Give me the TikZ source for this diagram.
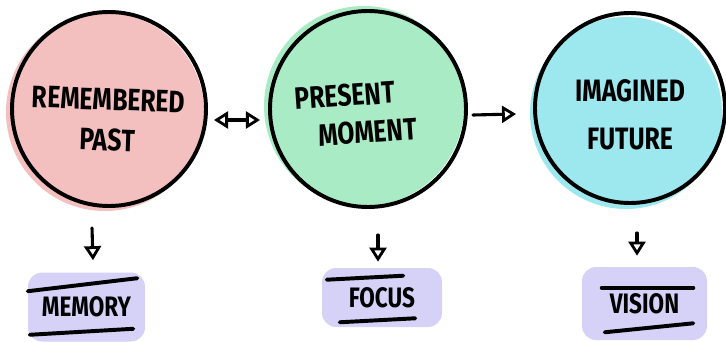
\documentclass[tikz,border=0pt]{standalone}
\usepackage{fontspec}
\setmainfont{Fira Sans}
\newfontfamily\handfont[FakeStretch=0.8]{Fira Sans}
\usetikzlibrary{arrows.meta, positioning, calc}
\definecolor{pastpink}{HTML}{F3BFBF}
\definecolor{nowgreen}{HTML}{A8EBC5}
\definecolor{futureblue}{HTML}{9DE8EF}
\definecolor{lavender}{HTML}{D6D1F7}
\newcommand{\pxu}{0.025cm}

\begin{document}
\begin{tikzpicture}[
  x=\pxu, y=-\pxu,
  >={Triangle[open, length=10pt, width=12pt, line width=2pt]},
  bubble/.style={circle, draw=black, line width=2.8pt, minimum size=#1*2*\pxu, inner sep=0pt},
  word/.style={font=\handfont\bfseries\fontsize{22}{24}\selectfont},
  tag/.style 2 args={fill=lavender, rounded corners=10pt, minimum width=#1*\pxu,
    minimum height=#2*\pxu, inner sep=0pt, font=\handfont\bfseries\fontsize{20}{22}\selectfont},
  rule/.style={line width=2.8pt, line cap=round},
  arr/.style={line width=2.2pt, line cap=round}
]
\useasboundingbox (0,0) rectangle (726,342);

% Colour washes behind the outlines
\fill[pastpink]   (105,112) circle (99);
\fill[nowgreen]   (364,106) circle (100);
\fill[futureblue] (626,113) circle (96);

% The three circles
\node[bubble=97] (past)    at (109,109) {};
\node[bubble=98] (present) at (368,109) {};
\node[bubble=95] (future)  at (630,108) {};

% Words inside
\node[word, align=center, rotate=-2] at (108,120) {REMEMBERED\\[5pt]PAST};
\node[word, align=left, rotate=4] at (356,114) {PRESENT\\[3pt]\hspace*{15pt}MOMENT};
\node[word, align=center] at (630,115) {IMAGINED\\[10pt]FUTURE};

% Highlighted labels
\node[tag={117}{69}] (memory) at (86.5,307)   {MEMORY};
\node[tag={120}{59}] (focus)  at (382,297.5)  {FOCUS};
\node[tag={125}{73}] (vision) at (644.5,303.5) {VISION};

\draw[rule] ($(memory.north west)+(0,19)$) -- ($(memory.north east)+(-8,6)$);
\draw[rule] ($(memory.south west)+(2,-7)$) -- ($(memory.south east)+(-12,-13)$);
\draw[rule] ($(focus.north west)+(5,12)$) -- ($(focus.north east)+(-39,8)$);
\draw[rule] ($(focus.south west)+(18,-5)$) -- ($(focus.south east)+(-27,-9)$);
\draw[rule] ($(vision.north west)+(20,21)$) -- ($(vision.north east)+(-14,21)$);
\draw[rule] ($(vision.south west)+(23,-8)$) -- ($(vision.south east)+(-14,-17)$);

% Arrows between circles
\draw[arr, <->] ($(past.east)+(6,11)$) -- ($(present.west)+(-8,11)$);
\draw[arr, ->] ($(present.east)+(5,6)$) -- ($(future.west)+(-17,6)$);

% Arrows down to the labels
\draw[arr, ->] ($(past.south)+(-17,20)$) -- ($(memory.north)+(6.5,-12)$);
\draw[arr, ->] ($(present.south)+(10,26)$) -- ($(focus.north)+(-4,-6)$);
\draw[arr, ->] ($(future.south)+(7,28)$) -- ($(vision.north)+(-7.5,-11)$);

\end{tikzpicture}
\end{document}
